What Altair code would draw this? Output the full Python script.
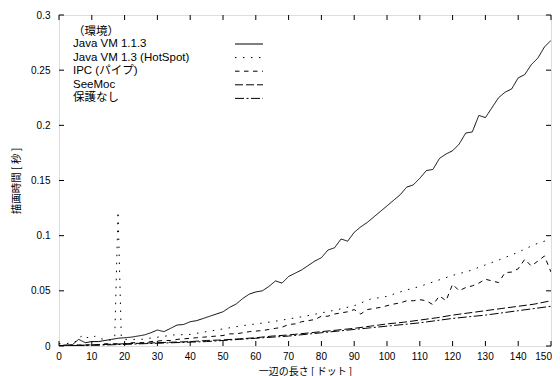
import altair as alt
import pandas as pd

# ---------------- data ----------------
SERIES = ["Java VM 1.1.3", "Java VM 1.3 (HotSpot)", "IPC (パイプ)", "SeeMoc", "保護なし"]
DASHES = [[1, 0], [1.5, 6.5], [4.5, 4.5], [8, 3], [9, 2.5, 2, 2.5]]

x_step2 = list(range(0, 151, 2))
java113 = [0.000, 0.001, 0.001, 0.006, 0.003, 0.004, 0.004, 0.005, 0.006, 0.007,
           0.0075, 0.008, 0.009, 0.010, 0.012, 0.0145, 0.013, 0.016, 0.019, 0.0195,
           0.022, 0.023, 0.025, 0.027, 0.029, 0.031, 0.035, 0.038, 0.043, 0.047,
           0.049, 0.050, 0.054, 0.059, 0.057, 0.063, 0.066, 0.069, 0.073, 0.077,
           0.080, 0.087, 0.089, 0.097, 0.095, 0.103, 0.108, 0.112, 0.117, 0.122,
           0.127, 0.132, 0.137, 0.144, 0.146, 0.152, 0.159, 0.160, 0.170, 0.174,
           0.177, 0.183, 0.193, 0.194, 0.209, 0.207, 0.216, 0.225, 0.230, 0.233,
           0.243, 0.246, 0.255, 0.261, 0.271, 0.277]
ipc = [0.000, 0.000, 0.001, 0.001, 0.001, 0.001, 0.001, 0.002, 0.002, 0.002,
       0.002, 0.003, 0.003, 0.003, 0.004, 0.0045, 0.005, 0.005, 0.006, 0.0065,
       0.007, 0.0075, 0.008, 0.0085, 0.009, 0.0095, 0.011, 0.011, 0.012, 0.013,
       0.0135, 0.014, 0.015, 0.016, 0.017, 0.0195, 0.020, 0.022, 0.023, 0.024,
       0.027, 0.027, 0.029, 0.030, 0.031, 0.033, 0.029, 0.033, 0.034, 0.035,
       0.0365, 0.038, 0.039, 0.041, 0.041, 0.042, 0.041, 0.0375, 0.0454, 0.041,
       0.056, 0.050, 0.053, 0.0545, 0.057, 0.0605, 0.059, 0.0575, 0.0665, 0.067,
       0.070, 0.0786, 0.0725, 0.077, 0.0816, 0.067]

x_hotspot = [0, 2, 4, 6, 7, 8, 10, 11, 12, 14, 16, 17, 18, 19, 20, 22, 25, 30, 35, 40,
             45, 50, 55, 60, 65, 70, 75, 80, 85, 90, 95, 100, 105, 110, 115, 120, 125,
             130, 135, 140, 145, 150]
hotspot = [0.002, 0.002, 0.003, 0.005, 0.010, 0.008, 0.007, 0.009, 0.007, 0.006,
           0.005, 0.008, 0.122, 0.007, 0.006, 0.006, 0.006, 0.008, 0.010, 0.0105,
           0.013, 0.0155, 0.018, 0.020, 0.022, 0.0245, 0.027, 0.030, 0.033, 0.0365,
           0.0425, 0.045, 0.050, 0.054, 0.059, 0.064, 0.068, 0.0735, 0.079, 0.085,
           0.092, 0.097]

x_step5 = list(range(0, 151, 5))
seemoc = [0.000, 0.0005, 0.001, 0.0015, 0.002, 0.0025, 0.003, 0.0035, 0.004, 0.005,
          0.0055, 0.0065, 0.0075, 0.009, 0.010, 0.0115, 0.013, 0.0145, 0.016, 0.018,
          0.020, 0.0215, 0.0235, 0.0255, 0.028, 0.030, 0.032, 0.034, 0.036, 0.038, 0.041]
nonprot = [0.000, 0.0003, 0.0007, 0.001, 0.0015, 0.002, 0.0025, 0.003, 0.0035, 0.004,
           0.005, 0.006, 0.007, 0.008, 0.009, 0.0105, 0.012, 0.0135, 0.015, 0.0165,
           0.018, 0.0195, 0.021, 0.023, 0.025, 0.0265, 0.028, 0.030, 0.032, 0.034, 0.036]

x_ticks = list(range(0, 151, 10))
y_ticks = [0, 0.05, 0.1, 0.15, 0.2, 0.25, 0.3]
LEGEND_TITLE = "（環境）"

# ---------------- build ----------------
frames = []
for name, xs, ys in [(SERIES[0], x_step2, java113), (SERIES[1], x_hotspot, hotspot),
                     (SERIES[2], x_step2, ipc), (SERIES[3], x_step5, seemoc),
                     (SERIES[4], x_step5, nonprot)]:
    frames.append(pd.DataFrame({"series": name, "x": xs, "y": ys}))
df = pd.concat(frames, ignore_index=True)

W, H = 492, 331
LATIN = "Liberation Sans, Noto Sans CJK JP"
CJK = "Noto Sans CJK JP"

xscale = alt.Scale(domain=[0, 150], nice=False, zero=False)
yscale = alt.Scale(domain=[0, 0.3], nice=False)

lines = alt.Chart(df).mark_line(color="black", strokeWidth=1, clip=True).encode(
    x=alt.X("x:Q", scale=xscale, axis=alt.Axis(
        values=x_ticks, labels=False, ticks=False, tickSize=0, domain=False, grid=False,
        title="一辺の長さ [ ドット ]", titleFont=CJK, titleFontSize=10,
        titleFontWeight="normal", titleColor="black", titleBaseline="middle",
        titleY=25)),
    y=alt.Y("y:Q", scale=yscale, axis=alt.Axis(
        values=y_ticks, format="~g", ticks=False, tickSize=0, domain=False, grid=False,
        labelFont=LATIN, labelFontSize=10, labelColor="black", labelPadding=9,
        labelFlush=False, labelOverlap=False,
        title="描画時間 [ 秒 ]", titleFont=CJK, titleFontSize=10.5,
        titleFontWeight="normal", titleColor="black", titleAngle=270,
        titleBaseline="middle", titleAlign="center", titleX=-43, titleY=H / 2)),
    strokeDash=alt.StrokeDash("series:N", scale=alt.Scale(domain=SERIES, range=DASHES),
                              legend=None),
    detail="series:N",
)

xt = pd.DataFrame({"x": x_ticks})
yt = pd.DataFrame({"y": y_ticks})
TL = 5
tick_layers = [
    alt.Chart(xt).mark_rule(color="black", strokeWidth=1).encode(
        x=alt.X("x:Q", scale=xscale), y=alt.value(H), y2=alt.value(H - TL)),
    alt.Chart(xt).mark_rule(color="black", strokeWidth=1).encode(
        x=alt.X("x:Q", scale=xscale), y=alt.value(0), y2=alt.value(TL)),
    alt.Chart(yt).mark_rule(color="black", strokeWidth=1).encode(
        y=alt.Y("y:Q", scale=yscale), x=alt.value(0), x2=alt.value(TL)),
    alt.Chart(yt).mark_rule(color="black", strokeWidth=1).encode(
        y=alt.Y("y:Q", scale=yscale), x=alt.value(W - TL), x2=alt.value(W)),
]

# x tick labels as text (last one right-aligned so it stays inside the page)
xl_main = pd.DataFrame({"x": x_ticks[:-1]})
xl_last = pd.DataFrame({"x": x_ticks[-1:]})
label_layers = [
    alt.Chart(xl_main).mark_text(align="center", baseline="middle", font=LATIN,
                                 fontSize=10, color="black").encode(
        x=alt.X("x:Q", scale=xscale), y=alt.value(H + 11),
        text=alt.Text("x:Q", format="d")),
    alt.Chart(xl_last).mark_text(align="right", baseline="middle", font=LATIN,
                                 fontSize=10, color="black", dx=1).encode(
        x=alt.X("x:Q", scale=xscale), y=alt.value(H + 11),
        text=alt.Text("x:Q", format="d")),
]

one = pd.DataFrame({"k": [0]})
LX, LY_TITLE, LY0, LDY = 14, 17, 29, 13.6
legend_layers = [
    alt.Chart(one).mark_text(align="left", baseline="middle", font=CJK, fontSize=11.5,
                             color="black").encode(
        x=alt.value(LX), y=alt.value(LY_TITLE), text=alt.value(LEGEND_TITLE))
]
for i, (name, dash) in enumerate(zip(SERIES, DASHES)):
    yy = LY0 + LDY * i
    legend_layers.append(
        alt.Chart(one).mark_text(align="left", baseline="middle", font=LATIN,
                                 fontSize=11.5, color="black").encode(
            x=alt.value(LX), y=alt.value(yy), text=alt.value(name)))
    legend_layers.append(
        alt.Chart(one).mark_rule(color="black", strokeWidth=1, strokeDash=dash).encode(
            x=alt.value(176), x2=alt.value(204), y=alt.value(yy)))

chart = alt.layer(lines, *tick_layers, *label_layers, *legend_layers).properties(
    width=W, height=H,
    padding={"left": 51, "top": 7, "right": 1, "bottom": 30},
    autosize=alt.AutoSizeParams(type="none"),
).configure_view(stroke="black", strokeWidth=1).configure(background="white")

chart.save("out.html", embed_options={"renderer": "svg", "actions": False})
